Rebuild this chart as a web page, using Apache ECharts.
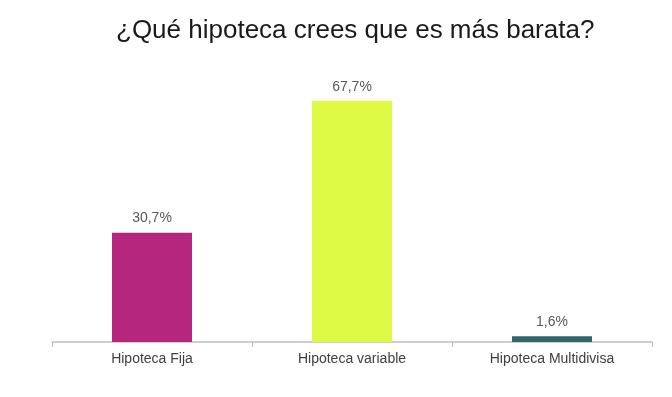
<!DOCTYPE html>
<html><head><meta charset="utf-8">
<script src="https://cdn.jsdelivr.net/npm/echarts@6/dist/echarts.min.js"></script>
<style>html,body{margin:0;padding:0;background:#fff}#c{width:672px;height:397px}</style>
</head><body><div id="c"></div>
<script>
const titleText = '¿Qué hipoteca crees que es más barata?';
const categories = ['Hipoteca Fija', 'Hipoteca variable', 'Hipoteca Multidivisa'];
const values = [30.7, 67.7, 1.6];
const colors = ['#B5267F', '#DFFA45', '#2E6868'];

const chart = echarts.init(document.getElementById('c'), null, {renderer: 'canvas'});
chart.setOption({
  animation: false,
  backgroundColor: '#fff',
  title: {
    text: titleText, left: 111, top: 13,
    textStyle: {fontFamily: 'Liberation Sans, Arial', fontSize: 26, fontWeight: 'normal', color: '#1a1a1a'}
  },
  grid: {left: 52, right: 20, top: 57, bottom: 55},
  xAxis: {
    type: 'category', data: categories,
    axisLine: {lineStyle: {color: '#BFBFBF', width: 1.5}},
    axisTick: {show: true, length: 5, alignWithLabel: false, lineStyle: {color: '#BFBFBF'}},
    axisLabel: {fontFamily: 'Liberation Sans, Arial', fontSize: 14, color: '#404040', margin: 10}
  },
  yAxis: {type: 'value', min: 0, max: 80, show: false, splitLine: {show: false}},
  series: [{
    type: 'bar', barWidth: 80,
    data: values.map((v, i) => ({value: v, itemStyle: {color: colors[i]}})),
    label: {
      show: true, position: 'top', distance: 7,
      fontFamily: 'Liberation Sans, Arial', fontSize: 14, color: '#595959',
      formatter: p => p.value.toFixed(1).replace('.', ',') + '%'
    }
  }]
});
</script></body></html>
